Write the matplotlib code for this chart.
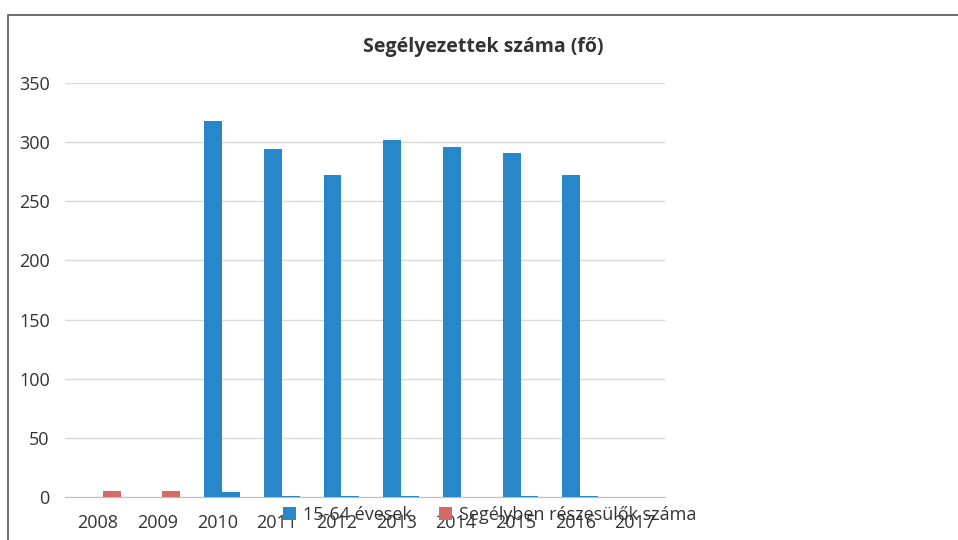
import numpy as np
import matplotlib.pyplot as plt
from matplotlib.patches import Rectangle

plt.rcParams['font.family'] = ['Open Sans', 'DejaVu Sans']

# adatok
evek = ['2008', '2009', '2010', '2011', '2012', '2013', '2014', '2015', '2016', '2017']
evesek_15_64 = [0, 0, 318, 294, 272, 302, 296, 291, 272, 0]
segelyben = [5, 5, 0, 0, 0, 0, 0, 0, 0, 0]
egyeb = [0, 0, 4, 1, 1, 1, 0, 1, 1, 0]

kek = '#2887c8'
piros = '#d46a6a'

fig = plt.figure(figsize=(9.58, 5.4), dpi=100)
ax = fig.add_axes([65 / 958, 1 - 497 / 540, 600 / 958, 414 / 540])

x = np.arange(len(evek))
w = 0.3
ax.bar(x - 0.07, evesek_15_64, w, color=kek, label='15-64 évesek', zorder=3)
ax.bar(x + 0.23, segelyben, w, color=piros, label='Segélyben részesülők száma', zorder=3)
ax.bar(x + 0.23, egyeb, w, color=kek, zorder=3)

ax.set_ylim(0, 350)
ax.set_xlim(-0.55, 9.5)
ax.set_yticks(range(0, 351, 50))
ax.set_xticks(x)
ax.set_xticklabels(evek)
ax.grid(axis='y', color='#d9d9d9', linewidth=1, zorder=0)
for s in ['top', 'right', 'left']:
    ax.spines[s].set_visible(False)
ax.spines['bottom'].set_color('#bfbfbf')
ax.tick_params(length=0, labelsize=13, colors='#333333')
ax.tick_params(axis='x', pad=12)
ax.tick_params(axis='y', pad=11)

fig.text(483 / 958, 1 - 47 / 540, 'Segélyezettek száma (fő)', ha='center', va='center',
         fontsize=14, fontweight='bold', color='#333333')

fig.legend(loc='center', bbox_to_anchor=(490 / 958, 1 - 515 / 540), ncol=2, frameon=False,
           fontsize=13, handlelength=0.7, handleheight=0.7, columnspacing=1.5,
           handletextpad=0.4, labelcolor='#333333')

# keret
fig.patches.append(Rectangle((8 / 958, -0.05), 2, 1 - 15 / 540 + 0.05, transform=fig.transFigure,
                             fill=False, edgecolor='#555555', linewidth=1.2))

fig.savefig('out.png', dpi=100)
